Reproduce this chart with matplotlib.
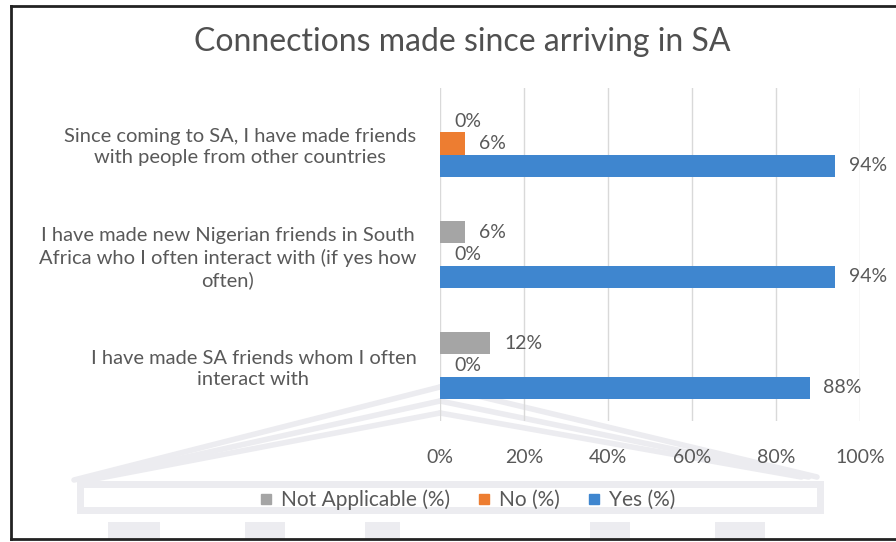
import matplotlib
matplotlib.use("Agg")
import matplotlib.pyplot as plt
from matplotlib.lines import Line2D
from matplotlib.patches import Rectangle
import numpy as np

plt.rcParams['font.family'] = ['Lato', 'DejaVu Sans']

title = "Connections made since arriving in SA"
categories = [
    "Since coming to SA, I have made friends\nwith people from other countries",
    "I have made new Nigerian friends in South\nAfrica who I often interact with (if yes how\noften)",
    "I have made SA friends whom I often\ninteract with",
]
series_names = ["Not Applicable (%)", "No (%)", "Yes (%)"]
not_applicable = [0, 6, 12]
no = [6, 0, 0]
yes = [94, 94, 88]
x_ticks = [0, 20, 40, 60, 80, 100]

colors = ["#a5a5a5", "#ed7d31", "#3f86cf"]
text_grey = "#595959"

fig = plt.figure(figsize=(8.96, 5.42), dpi=100)

# faint building watermark behind the chart
wm = fig.add_axes([0, 0, 1, 1], zorder=0)
wm.set_xlim(0, 896)
wm.set_ylim(542, 0)
wm.axis("off")
wm_col = "#ececf0"
for d in (0, 14, 26):
    wm.plot([440, 74 + d * 0.6], [387 + d, 480], color=wm_col, lw=4, solid_capstyle="round")
    wm.plot([440, 817 - d * 0.6], [387 + d, 477], color=wm_col, lw=4, solid_capstyle="round")
wm.add_patch(Rectangle((80, 484), 740, 26, facecolor="none", edgecolor=wm_col, lw=5))
for x0, x1 in [(108, 160), (245, 285), (365, 400), (590, 630), (715, 765)]:
    wm.add_patch(Rectangle((x0, 522), x1 - x0, 17, color=wm_col, lw=0))
# outer frame (top, left and bottom edges)
wm.plot([11, 896], [6, 6], color="#222222", lw=2)
wm.plot([11, 11], [6, 539], color="#222222", lw=2)
wm.plot([11, 896], [539, 539], color="#222222", lw=2)

ax = fig.add_axes([440 / 896, (542 - 421) / 542, 420 / 896, 333 / 542], zorder=1)
ax.patch.set_alpha(0)

y = np.arange(len(categories))
h = 0.2
offsets = [-h, 0, h]
values = [not_applicable, no, yes]
for vals, off, col, name in zip(values, offsets, colors, series_names):
    bars = ax.barh(y + off, vals, height=h, color=col, label=name, zorder=3)
    for b, v in zip(bars, vals):
        ax.annotate(f"{v}%", (b.get_width(), b.get_y() + b.get_height() / 2),
                    xytext=(10, 0), textcoords="offset points",
                    ha="left", va="center", fontsize=14, color=text_grey)

ax.set_xlim(0, 100)
ax.set_ylim(len(categories) - 0.5, -0.5)
ax.set_xticks(x_ticks)
ax.set_xticklabels([f"{t}%" for t in x_ticks], fontsize=14, color=text_grey)
ax.set_yticks(y)
ax.set_yticklabels(categories, fontsize=14.5, color=text_grey,
                   multialignment="center", linespacing=1.3)
ax.tick_params(axis="both", length=0)
ax.tick_params(axis="x", pad=20)
ax.tick_params(axis="y", pad=17)
ax.xaxis.grid(True, color="#d9d9d9", lw=1, zorder=0)
for s in ax.spines.values():
    s.set_visible(False)

fig.text(462 / 896, 1 - 42 / 542, title, ha="center", va="center",
         fontsize=23, color="#505050")

handles = [Line2D([], [], marker="s", linestyle="", markersize=7, color=c) for c in colors]
fig.legend(handles, series_names, loc="center", bbox_to_anchor=(467 / 896, 1 - 500 / 542),
           ncol=3, frameon=False, fontsize=15, labelcolor=text_grey,
           handlelength=0.7, handletextpad=0.35, columnspacing=1.3)

fig.savefig("out.png", dpi=100)
